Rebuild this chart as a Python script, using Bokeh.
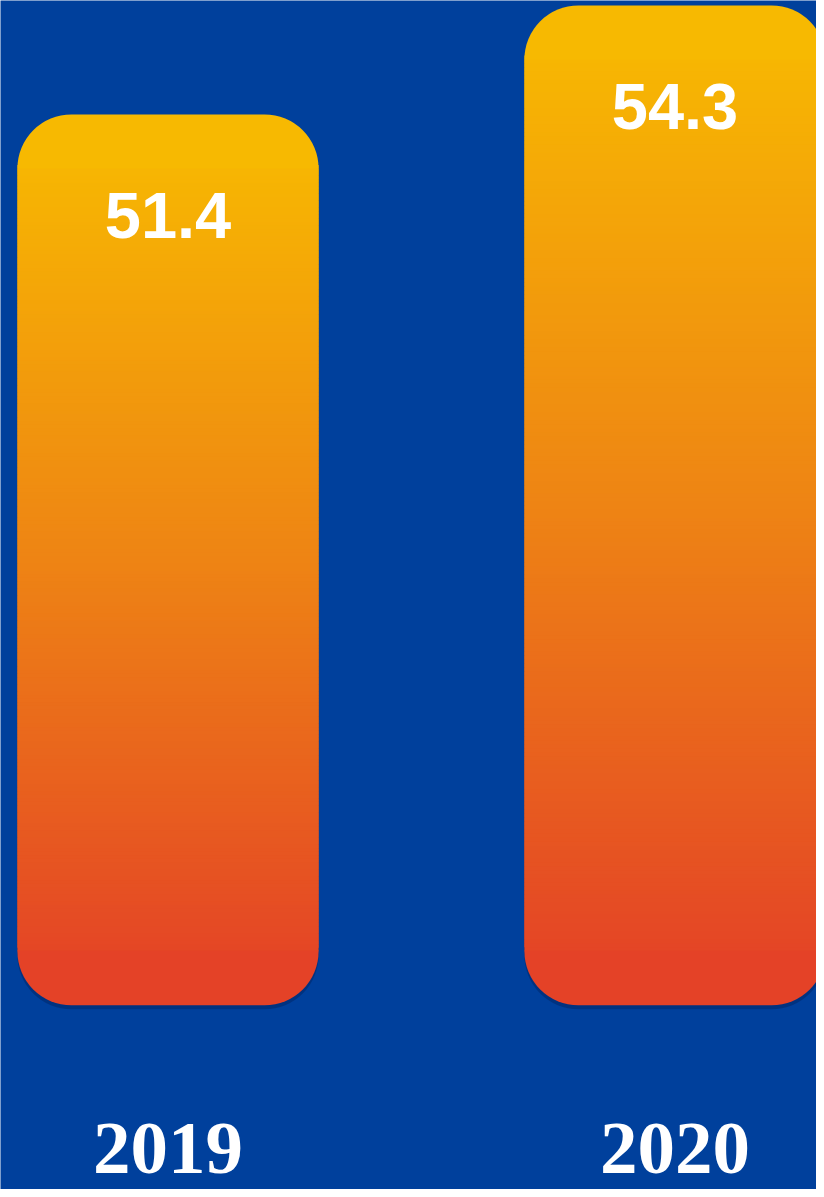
import numpy as np
from bokeh.plotting import figure
from bokeh.models import Range1d, ColumnDataSource
from bokeh.core.properties import value
from bokeh.embed import file_html
from bokeh.resources import INLINE

# ---- data ----
years = ["2019", "2020"]
values = [51.4, 54.3]
value_labels = ["51.4", "54.3"]

# ---- style / layout constants ----
W, H = 816, 1189
BG = "#00409C"
STOPS = [(0.0, (227, 62, 40)), (0.5, (238, 132, 20)), (1.0, (248, 188, 0))]  # bottom -> top
BASE = 27.7          # where the pictorial bars start
BAR_WIDTH = 0.594
RADIUS_PX = 54
N_SLICES = 220

X_RANGE = (-0.3304, 1.2791)
Y_RANGE = (22.80, 54.433)
px_per_y = H / (Y_RANGE[1] - Y_RANGE[0])
r_d = RADIUS_PX / px_per_y


def grad(f):
    for (f0, c0), (f1, c1) in zip(STOPS[:-1], STOPS[1:]):
        if f <= f1:
            t = (f - f0) / (f1 - f0)
            c = [round(a + (b - a) * t) for a, b in zip(c0, c1)]
            return "#%02x%02x%02x" % tuple(c)
    return "#%02x%02x%02x" % STOPS[-1][1]


xs = list(range(len(years)))

p = figure(width=W, height=H, x_range=Range1d(*X_RANGE), y_range=Range1d(*Y_RANGE),
           output_backend="svg", toolbar_location=None, min_border=0)
p.background_fill_color = BG
p.border_fill_color = BG
p.outline_line_color = None
p.grid.visible = False
p.axis.visible = False

# shadow
sh = 4 / px_per_y
p.quad(left=[x - BAR_WIDTH / 2 for x in xs], right=[x + BAR_WIDTH / 2 for x in xs],
       bottom=[BASE - sh] * len(xs), top=[v - sh for v in values],
       fill_color="#001a4d", fill_alpha=0.35, line_color=None, border_radius=RADIUS_PX)

# gradient body slices
L, R, B, T, C = [], [], [], [], []
for x, v in zip(xs, values):
    lo, hi = BASE + r_d, v - r_d
    edges = np.linspace(lo, hi, N_SLICES + 1)
    step = edges[1] - edges[0]
    for b, t in zip(edges[:-1], edges[1:]):
        L.append(x - BAR_WIDTH / 2)
        R.append(x + BAR_WIDTH / 2)
        B.append(b)
        T.append(t + step)
        C.append(grad(((b + t) / 2 - BASE) / (v - BASE)))
p.quad(left="l", right="r", bottom="b", top="t", fill_color="c", line_color=None,
       source=ColumnDataSource(dict(l=L, r=R, b=B, t=T, c=C)))

# bottom caps
p.quad(left=[x - BAR_WIDTH / 2 for x in xs], right=[x + BAR_WIDTH / 2 for x in xs],
       bottom=[BASE] * len(xs), top=[BASE + r_d + 0.02] * len(xs),
       fill_color=[grad((r_d / 2) / (v - BASE)) for v in values], line_color=None,
       border_radius=(0, 0, RADIUS_PX, RADIUS_PX))
# top caps
p.quad(left=[x - BAR_WIDTH / 2 for x in xs], right=[x + BAR_WIDTH / 2 for x in xs],
       bottom=[v - r_d for v in values], top=values,
       fill_color=[grad(1 - (r_d / 2) / (v - BASE)) for v in values], line_color=None,
       border_radius=(RADIUS_PX, RADIUS_PX, 0, 0))

# value labels
p.text(x=xs, y=values, text=value_labels, text_align="center", text_baseline="alphabetic",
       y_offset=101, text_color="white", text_font=value("Liberation Sans"),
       text_font_style="bold", text_font_size="65px")

# year labels
p.text(x=xs, y=[BASE] * len(xs), text=years, text_align="center", text_baseline="alphabetic",
       y_offset=143, text_color="white", text_font=value("Liberation Serif"),
       text_font_style="bold", text_font_size="75px")

open("out.html", "w").write(file_html(p, INLINE))
